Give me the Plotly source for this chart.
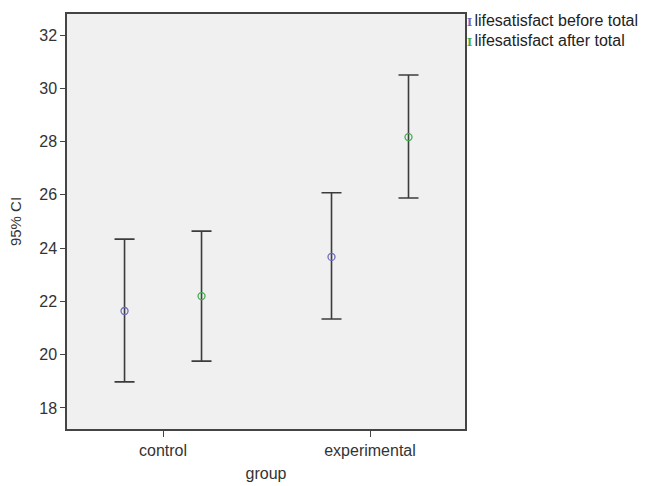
import plotly.graph_objects as go

groups = ["control", "experimental"]
series_names = ["lifesatisfact before total", "lifesatisfact after total"]
means = {"lifesatisfact before total": [21.64, 23.67],
         "lifesatisfact after total": [22.20, 28.17]}
lower = {"lifesatisfact before total": [18.98, 21.34],
         "lifesatisfact after total": [19.76, 25.88]}
upper = {"lifesatisfact before total": [24.34, 26.08],
         "lifesatisfact after total": [24.64, 30.50]}
colors = {"lifesatisfact before total": "#6b6bc0",
          "lifesatisfact after total": "#3fae4a"}
offsets = {"lifesatisfact before total": -0.186, "lifesatisfact after total": 0.186}
yticks = [18, 20, 22, 24, 26, 28, 30, 32]

fig = go.Figure()
for s in series_names:
    xs = [i + offsets[s] for i in range(len(groups))]
    m = means[s]
    fig.add_trace(go.Scatter(
        x=xs, y=m, mode="markers", name=s, showlegend=False,
        marker=dict(symbol="circle-open", size=7, color=colors[s], line=dict(width=1.3)),
        error_y=dict(type="data", symmetric=False,
                     array=[u - v for u, v in zip(upper[s], m)],
                     arrayminus=[v - l for l, v in zip(lower[s], m)],
                     color="#3c3c3c", thickness=1.6, width=10),
    ))

for k, s in enumerate(series_names):
    fig.add_annotation(
        xref="paper", yref="paper", x=1.0, xanchor="left", xshift=0,
        y=1.0, yanchor="top", yshift=4 - 20 * k,
        text=(f"<span style='color:{colors[s]};font-size:11px;font-family:DejaVu Serif'><b>I</b></span>"
              f"<span style='font-size:8px'> </span>{s}"),
        showarrow=False, font=dict(family="Liberation Sans, Arial", size=16, color="#222"),
        align="left")

fig.update_layout(
    width=647, height=486,
    margin=dict(l=67, r=182, t=14, b=57),
    paper_bgcolor="white", plot_bgcolor="#f0f0f0",
    font=dict(family="Liberation Sans, Arial", size=16, color="#333"),
    xaxis=dict(range=[-0.464, 1.459], tickvals=list(range(len(groups))), ticktext=groups,
               tickfont=dict(size=16, color="#333"), automargin=False,
               showgrid=False, zeroline=False, showline=True, mirror=True,
               linecolor="#444", linewidth=1.5, ticks="outside", ticklen=6,
               tickcolor="#444", title=dict(text="group", standoff=10, font=dict(size=16))),
    yaxis=dict(range=[17.21, 32.79], tickvals=yticks,
               tickfont=dict(size=16, color="#333"), automargin=False,
               showgrid=False, zeroline=False, showline=True, mirror=True,
               linecolor="#444", linewidth=1.5, ticks="outside", ticklen=5,
               tickcolor="#444", title=dict(text="95% CI", standoff=14, font=dict(size=15))),
)

fig.write_html("out.html")
